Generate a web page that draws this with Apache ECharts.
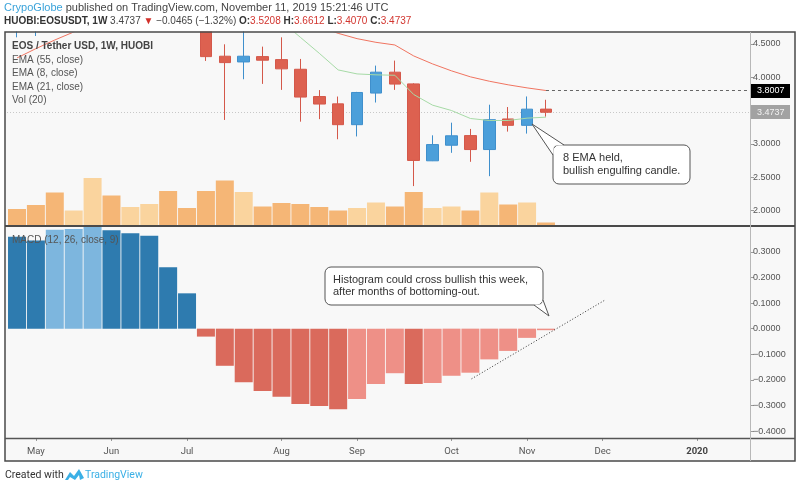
<!DOCTYPE html>
<html><head><meta charset="utf-8">
<script src="https://cdn.jsdelivr.net/npm/echarts@6/dist/echarts.min.js"></script>
<style>html,body{margin:0;padding:0;background:#fff}#c{width:800px;height:489px}</style>
</head><body><div id="c"></div>
<script>
// ---- data (weekly, Apr 29 2019 .. Nov 11 2019) ----
const weeks = ['2019-04-29','2019-05-06','2019-05-13','2019-05-20','2019-05-27','2019-06-03','2019-06-10','2019-06-17','2019-06-24','2019-07-01',
  '2019-07-08','2019-07-15','2019-07-22','2019-07-29','2019-08-05','2019-08-12','2019-08-19','2019-08-26','2019-09-02','2019-09-09',
  '2019-09-16','2019-09-23','2019-09-30','2019-10-07','2019-10-14','2019-10-21','2019-10-28','2019-11-04','2019-11-11'];
const openP  = [4.90,5.02,5.95,5.80,6.45,7.40,6.55,7.05,7.45,5.90, 5.85,4.316,4.23,4.31,4.265,4.12,3.71,3.60,3.287,3.762, 4.076,3.90,2.744,2.978,3.123,2.913,3.373,3.277,3.5208];
const highP  = [5.15,6.10,7.00,6.60,8.65,7.50,7.20,7.70,7.60,6.20, 6.05,4.495,4.72,4.46,4.60,4.275,3.807,3.71,3.78,4.175, 4.25,3.91,3.127,3.317,3.223,3.587,3.552,3.711,3.6612];
const lowP   = [4.60,4.62,5.40,5.75,6.30,6.05,6.35,6.80,5.50,5.10, 4.245,3.358,3.97,3.90,3.81,3.332,3.37,3.068,3.11,3.62, 3.81,2.364,2.74,2.864,2.729,2.513,3.183,3.153,3.4070];
const closeP = [5.02,5.95,5.80,6.45,7.40,6.55,7.05,7.45,5.90,5.85, 4.31,4.22,4.316,4.256,4.126,3.702,3.597,3.287,3.771,4.076, 3.897,2.749,2.988,3.12,2.913,3.362,3.277,3.5202,3.4737];
const volume = [32,40,65,29,94,59,36,42,68,34, 68,89,66,37,44,42,36,29,34,45, 37,66,34,37,29,65,41,45,5];
const volUp  = [0,0,0,1,1,0,1,1,0,0, 0,0,1,0,0,0,0,0,1,1, 0,0,1,1,0,1,0,1,0];
const emaRed   = [4.29,4.43,4.56,4.68,4.80,4.90,4.98,5.05,5.10,5.12, 5.10,5.06,5.02,4.97,4.91,4.84,4.76,4.66,4.58,4.525, 4.485,4.32,4.20,4.096,4.006,3.94,3.886,3.84,3.8007];
const emaGreen = [5.00,5.30,5.60,5.90,6.20,6.40,6.50,6.60,6.50,6.20, 5.80,5.45,5.20,5.00,4.84,4.60,4.36,4.11,4.05,4.036, 4.03,3.74,3.58,3.50,3.38,3.35,3.35,3.385,3.40];
const macdHist = [0.359,0.344,0.386,0.389,0.405,0.384,0.373,0.363,0.240,0.138, -0.031,-0.145,-0.209,-0.243,-0.266,-0.294,-0.302,-0.315,-0.275,-0.216, -0.174,-0.216,-0.212,-0.184,-0.172,-0.120,-0.087,-0.036,-0.006];
const priceTicks = [2.0,2.5,3.0,4.0,4.5];
const macdTicks = [0.3,0.2,0.1,0,-0.1,-0.2,-0.3,-0.4];
const monthTickIdx = [1,5,9,14,18,23,27,31,36];
const monthLabels = ['May','Jun','Jul','Aug','Sep','Oct','Nov','Dec','2020'];
const trendLine = [[24.06,-0.196],[31.13,0.112]];

// ---- chart ----
const X_MIN = -0.53, X_MAX = 38.8;
const FONT = '"Liberation Sans", Arial, sans-serif';
const fmt = v => v.toFixed(4).replace('-', '\u2212');
const RED = '#DD6150', BLUE = '#4B9FDA';

const chart = echarts.init(document.getElementById('c'), null, {renderer:'canvas'});
const option = {
  animation:false,
  backgroundColor:'#ffffff',
  grid:[
    {left:7, right:50, top:33, height:192, show:false},
    {left:7, right:50, top:227, height:211, show:false}
  ],
  xAxis:[
    {type:'value', gridIndex:0, min:X_MIN, max:X_MAX, show:false},
    {type:'value', gridIndex:1, min:X_MIN, max:X_MAX, splitLine:{show:false}, axisLine:{show:false, onZero:false},
     axisTick:{show:true, customValues:monthTickIdx, length:3, lineStyle:{color:'#999'}},
     axisLabel:{customValues:monthTickIdx, margin:9, color:'#555', fontSize:9.5, fontFamily:'Roboto, sans-serif',
       formatter:v=>{const k=monthTickIdx.indexOf(Math.round(v)); const s=k>=0?monthLabels[k]:''; return /^\d+$/.test(s)?'{b|'+s+'}':s;},
       rich:{b:{fontWeight:'bold', color:'#444', fontSize:9.5, fontFamily:'Roboto, sans-serif'}}}}
  ],
  yAxis:[
    {type:'value', gridIndex:0, position:'right', min:1.779, max:4.665, splitLine:{show:false}, axisLine:{show:false, onZero:false},
     axisTick:{show:true, customValues:priceTicks, length:4, lineStyle:{color:'#999'}},
     axisLabel:{customValues:priceTicks, formatter:fmt, color:'#555', fontSize:9, margin:3, fontFamily:FONT}},
    {type:'value', gridIndex:0, min:0, max:384, show:false, axisLine:{onZero:false}},
    {type:'value', gridIndex:1, position:'right', min:-0.427, max:0.397, splitLine:{show:false}, axisLine:{show:false, onZero:false},
     axisTick:{show:true, customValues:macdTicks, length:4, lineStyle:{color:'#999'}},
     axisLabel:{customValues:macdTicks, formatter:fmt, color:'#555', fontSize:9, margin:3, fontFamily:FONT}}
  ],
  series:[
    {type:'bar', name:'Vol', xAxisIndex:0, yAxisIndex:1, barWidth:18, z:1,
     data:volume.map((v,i)=>[i,v]),
     itemStyle:{color:p=>volUp[p.dataIndex]?'#FAD49E':'#F5B676'}},
    {type:'candlestick', name:'EOS', xAxisIndex:0, yAxisIndex:0, barWidth:12, z:3,
     data:weeks.map((d,i)=>[i,openP[i],closeP[i],lowP[i],highP[i]]),
     itemStyle:{color:BLUE, color0:RED, borderColor:'#3F8FCC', borderColor0:'#D4584A', borderWidth:1},
     markLine:{silent:true, symbol:'none', label:{show:false}, z:2,
       data:[
         [{coord:[X_MIN, closeP[28]], lineStyle:{color:'#c8c8c8', type:[1,2], width:1}}, {coord:[X_MAX, closeP[28]]}],
         [{coord:[28, emaRed[28]], lineStyle:{color:'#666', type:[3,3], width:1}}, {coord:[X_MAX, emaRed[28]]}]
       ]}},
    {type:'line', name:'EMA red', xAxisIndex:0, yAxisIndex:0, z:4, symbol:'none', lineStyle:{color:'#F07460', width:1},
     data:emaRed.map((v,i)=>[i,v])},
    {type:'line', name:'EMA green', xAxisIndex:0, yAxisIndex:0, z:4, symbol:'none', lineStyle:{color:'#A6DAA6', width:1},
     data:emaGreen.map((v,i)=>[i,v])},
    {type:'bar', name:'MACD', xAxisIndex:1, yAxisIndex:2, barWidth:18, z:2,
     data:macdHist.map((v,i)=>[i,v]),
     itemStyle:{color:p=>{const i=p.dataIndex, v=macdHist[i], rising=i>0&&v>macdHist[i-1];
        return v>=0 ? (rising?'#7DB6DE':'#2E7BAF') : (rising?'#EE9087':'#DA6A5C');}},
     markLine:{silent:true, symbol:'none', label:{show:false},
       lineStyle:{color:'#333', type:[1,2], width:1},
       data:[[{coord:trendLine[0]},{coord:trendLine[1]}]]}}
  ]
};
chart.setOption(option);

const pEma = chart.convertToPixel({xAxisIndex:0, yAxisIndex:0}, [28, emaRed[28]]);
const pLast = chart.convertToPixel({xAxisIndex:0, yAxisIndex:0}, [28, closeP[28]]);

const T = (x,y,text,fill,font)=>({type:'text', x, y, z:30,
  style:{text, fill, font, verticalAlign:'middle', align:'left'}});

const callout = (x1,y1,x2,y2,fillPts,edgePts)=>[
  {type:'rect', z:26, shape:{x:x1, y:y1, width:x2-x1, height:y2-y1, r:6}, style:{fill:'#fff', stroke:'#555', lineWidth:1}},
  {type:'polygon', z:27, shape:{points:fillPts}, style:{fill:'#fff', stroke:null}},
  {type:'polyline', z:28, shape:{points:edgePts}, style:{fill:null, stroke:'#555', lineWidth:1}}
];

const g = [
  // frame background
  {type:'rect', z:-10, shape:{x:5, y:32, width:790, height:429}, style:{fill:'#f8f8f8', stroke:null}},
  // mask above frame (hide overflow of clipped candles)
  {type:'rect', z:15, shape:{x:0, y:0, width:800, height:31.5}, style:{fill:'#fff', stroke:null}},
  // header
  {type:'text', x:4, y:8, z:30, style:{text:'{a|CrypoGlobe}{n| published on TradingView.com, November 11, 2019 15:21:46 UTC}', verticalAlign:'middle',
     rich:{a:{fill:'#3AA3DA', font:'11px '+FONT}, n:{fill:'#444', font:'11px '+FONT}}}},
  {type:'text', x:4, y:21, z:30, style:{text:'{b|HUOBI:EOSUSDT, 1W}{n| 3.4737 }{r|\u25BC}{n| \u22120.0465 (\u22121.32%) }{b|O:}{v|3.5208}{b| H:}{v|3.6612}{b| L:}{v|3.4070}{b| C:}{v|3.4737}', verticalAlign:'middle',
     rich:{b:{fill:'#333', font:'bold 10px '+FONT}, n:{fill:'#444', font:'10px '+FONT}, r:{fill:'#D2302A', font:'10px '+FONT}, v:{fill:'#D2352F', font:'10px '+FONT}}}},
  // legends
  T(12,46,'EOS / Tether USD, 1W, HUOBI','#444','bold 10px '+FONT),
  T(12,60,'EMA (55, close)','#555','10px '+FONT),
  T(12,73.5,'EMA (8, close)','#555','10px '+FONT),
  T(12,87,'EMA (21, close)','#555','10px '+FONT),
  T(12,100.5,'Vol (20)','#555','10px '+FONT),
  T(12,240,'MACD (12, 26, close, 9)','#555','10px '+FONT),
  // frame lines
  {type:'rect', z:20, shape:{x:5, y:32, width:790, height:429}, style:{fill:null, stroke:'#4a4a4a', lineWidth:1.5}},
  {type:'line', z:20, shape:{x1:5, y1:226, x2:795, y2:226}, style:{stroke:'#4a4a4a', lineWidth:2}},
  {type:'line', z:20, shape:{x1:5, y1:438.5, x2:795, y2:438.5}, style:{stroke:'#555', lineWidth:1.5}},
  {type:'line', z:20, shape:{x1:750.5, y1:32, x2:750.5, y2:461}, style:{stroke:'#b8b8b8', lineWidth:1}},
  // price labels on right axis
  {type:'rect', z:25, shape:{x:751, y:Math.round(pEma[1])-7, width:39, height:14}, style:{fill:'#000'}},
  T(757,pEma[1],fmt(emaRed[28]),'#fff','9px '+FONT),
  {type:'rect', z:25, shape:{x:751, y:Math.round(pLast[1])-7, width:39, height:14}, style:{fill:'#A2A2A2'}},
  T(757,pLast[1],fmt(closeP[28]),'#f2f2f2','9px '+FONT),
  // callout 1
  ...callout(553,145,690,184, [[564,145.6],[532,124],[553.6,155],[553.6,145.6]], [[564,145],[532,124],[553,155]]),
  T(563,158,'8 EMA held,','#333','11px '+FONT),
  T(563,171,'bullish engulfing candle.','#333','11px '+FONT),
  // callout 2
  ...callout(325,267,543,305, [[534,304.4],[549,316],[542.4,300],[542.4,304.4]], [[534,305],[549,316],[543,300]]),
  T(333,279.5,'Histogram could cross bullish this week,','#333','11px '+FONT),
  T(333,291.5,'after months of bottoming-out.','#333','11px '+FONT),
  // footer
  T(5,475,'Created with','#333','10.5px Roboto, sans-serif'),
  {type:'polygon', z:30, shape:{points:[[65,480],[70,472],[74,476],[79,469],[84,478],[80,480],[79,475],[75,480],[70,477],[68,480]]}, style:{fill:'#3BB0E6'}},
  T(85,475,'TradingView','#3BB0E6','10.5px Roboto, sans-serif')
];
chart.setOption({graphic:g});
</script></body></html>
